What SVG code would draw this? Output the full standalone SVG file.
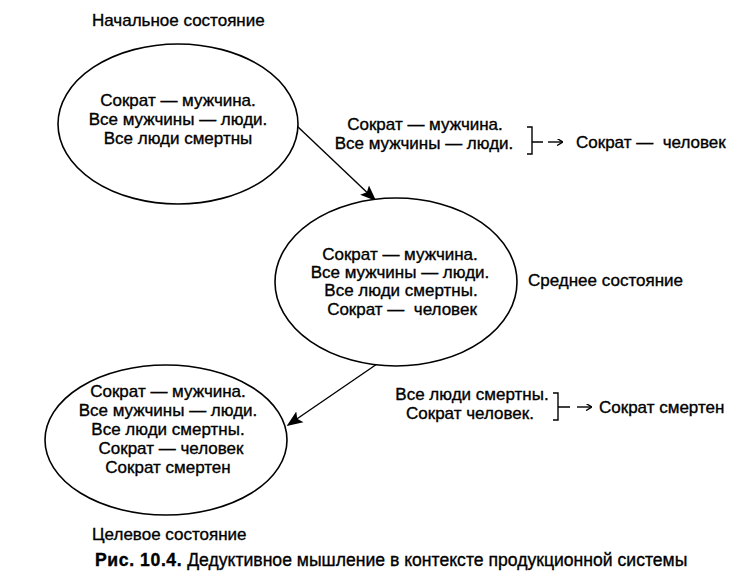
<svg xmlns="http://www.w3.org/2000/svg" width="741" height="579" viewBox="0 0 741 579">
<style>
text{font-family:"Liberation Sans",Arial,sans-serif;font-size:17px;fill:#000;stroke:#000;stroke-width:0.35;white-space:pre}
.c{text-anchor:middle}
.state{fill:#fff;stroke:#000;stroke-width:1.6}
.edge{stroke:#000;stroke-width:1.4;fill:none}
.b{font-weight:bold;letter-spacing:0.6px}
.cap{font-size:17.6px}
</style>
<defs>
<marker id="ah" viewBox="0 0 10 10" refX="9" refY="5" markerWidth="16" markerHeight="16" markerUnits="userSpaceOnUse" orient="auto">
<path d="M0,1 L10,5 L0,9 L2,5 Z" fill="#000"/>
</marker>
<marker id="sa" viewBox="0 0 10 10" refX="9" refY="5" markerWidth="7" markerHeight="7" markerUnits="userSpaceOnUse" orient="auto">
<path d="M2,0 L10,5 L2,10" fill="none" stroke="#000" stroke-width="2"/>
</marker>
</defs>
<rect width="741" height="579" fill="#fff"/>
<g id="connectors">
<line class="edge" x1="297" y1="126" x2="375" y2="200" marker-end="url(#ah)"/>
<line class="edge" x1="377" y1="364" x2="288" y2="425" marker-end="url(#ah)"/>
</g>
<g id="initial">
<ellipse class="state" cx="178" cy="124" rx="120" ry="80"/>
<text class="c" x="178" y="106">Сократ — мужчина.</text>
<text class="c" x="178" y="125">Все мужчины — люди.</text>
<text class="c" x="178" y="144">Все люди смертны</text>
<text x="92" y="26">Начальное состояние</text>
</g>
<g id="middle">
<ellipse class="state" cx="396" cy="282" rx="121" ry="84"/>
<text class="c" x="400" y="260">Сократ — мужчина.</text>
<text class="c" x="400" y="278">Все мужчины — люди.</text>
<text class="c" x="401" y="296">Все люди смертны.</text>
<text class="c" x="402" y="315">Сократ —  человек</text>
<text x="528" y="286">Среднее состояние</text>
</g>
<g id="goal">
<ellipse class="state" cx="166" cy="440" rx="121" ry="75"/>
<text class="c" x="168" y="397">Сократ — мужчина.</text>
<text class="c" x="168" y="416">Все мужчины — люди.</text>
<text class="c" x="168" y="435">Все люди смертны.</text>
<text class="c" x="171" y="454">Сократ — человек</text>
<text class="c" x="168" y="473">Сократ смертен</text>
<text x="92" y="540">Целевое состояние</text>
</g>
<g id="rule1">
<text class="c" x="425" y="130">Сократ — мужчина.</text>
<text class="c" x="424" y="149">Все мужчины — люди.</text>
<path class="edge" d="M527,127 H532 V154 H527 M532,142 H543"/>
<line class="edge" x1="548" y1="142" x2="562" y2="142" marker-end="url(#sa)"/>
<text x="576" y="148">Сократ —  человек</text>
</g>
<g id="rule2">
<text class="c" x="472" y="400">Все люди смертны.</text>
<text class="c" x="470" y="419">Сократ человек.</text>
<path class="edge" d="M553,393 H558 V420 H553 M558,407 H570"/>
<line class="edge" x1="577" y1="407" x2="591" y2="407" marker-end="url(#sa)"/>
<text x="599" y="413">Сократ смертен</text>
</g>
<g id="caption">
<text class="cap" x="95" y="566"><tspan class="b">Рис. 10.4.</tspan> Дедуктивное мышление в контексте продукционной системы</text>
</g>
</svg>
